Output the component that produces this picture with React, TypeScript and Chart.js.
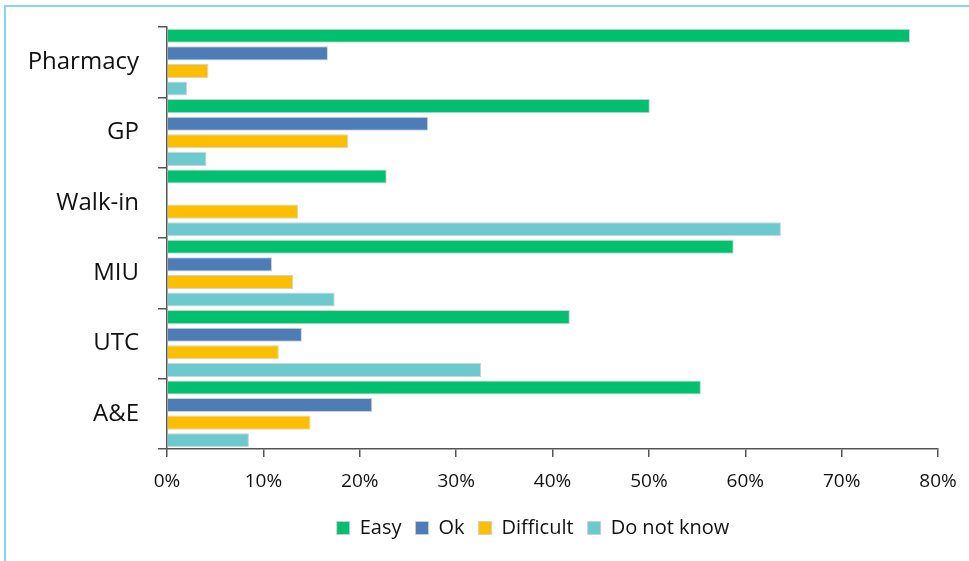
import React, { useEffect, useRef } from "react";
import { Chart, registerables } from "chart.js";

Chart.register(...registerables);

const categories = ["Pharmacy", "GP", "Walk-in", "MIU", "UTC", "A&E"];
const seriesNames = ["Easy", "Ok", "Difficult", "Do not know"];
const easy = [77.1, 50.1, 22.8, 58.8, 41.8, 55.4];
const ok = [16.7, 27.1, 0, 10.9, 14.0, 21.3];
const difficult = [4.3, 18.8, 13.6, 13.1, 11.6, 14.9];
const doNotKnow = [2.1, 4.1, 63.7, 17.4, 32.6, 8.5];
const xTickMax = 80;
const xTickStep = 10;

const colors = ["#00BF6F", "#4E7CB6", "#FBBF00", "#6CC9CD"];
const FONT = "'Open Sans', 'Noto Sans', sans-serif";

const legendShift = {
  id: "legendShift",
  afterLayout(chart: any) {
    const l = chart.legend;
    if (l) {
      l.left += 64;
      l.right += 64;
    }
  },
};

export default function App() {
  const canvasRef = useRef<HTMLCanvasElement | null>(null);

  useEffect(() => {
    if (!canvasRef.current) return;
    const values = [easy, ok, difficult, doNotKnow];
    const chart = new Chart(canvasRef.current, {
      type: "bar",
      data: {
        labels: categories,
        datasets: seriesNames.map((name, i) => ({
          label: name,
          data: values[i],
          backgroundColor: colors[i],
          borderColor: "rgba(205,205,205,0.9)",
          borderWidth: 1,
          categoryPercentage: 1,
          barPercentage: 0.8,
        })),
      },
      plugins: [legendShift],
      options: {
        indexAxis: "y",
        animation: false,
        responsive: true,
        maintainAspectRatio: false,
        layout: { padding: { left: 0, right: 31, top: 27, bottom: 13 } },
        plugins: {
          tooltip: { enabled: false },
          legend: {
            position: "bottom",
            labels: {
              boxWidth: 13,
              boxHeight: 13,
              padding: 14,
              color: "#111",
              font: { family: FONT, size: 20 },
            },
          },
        },
        scales: {
          x: {
            min: 0,
            max: xTickMax,
            ticks: {
              stepSize: xTickStep,
              callback: (v: any) => v + "%",
              color: "#111",
              padding: 13,
              font: { family: FONT, size: 19 },
            },
            grid: {
              display: true,
              drawOnChartArea: false,
              drawTicks: true,
              tickLength: 8,
              color: "#555",
              lineWidth: 1.5,
            },
            border: { display: true, color: "#555", width: 1.5 },
            afterFit: (s: any) => {
              s.height = 55;
              s.paddingLeft = 0;
              s.paddingRight = 0;
            },
          },
          y: {
            ticks: {
              color: "#111",
              padding: 19,
              font: { family: FONT, size: 24 },
            },
            grid: {
              display: true,
              offset: true,
              drawOnChartArea: false,
              drawTicks: true,
              tickLength: 9,
              color: "#555",
              lineWidth: 1.5,
            },
            border: { display: true, color: "#555", width: 1.5 },
            afterFit: (s: any) => {
              s.width = 167;
              s.paddingTop = 0;
              s.paddingBottom = 0;
            },
          },
        },
      },
    });
    return () => chart.destroy();
  }, []);

  return (
    <div style={{ position: "absolute", left: 0, top: 0, width: 969, height: 561, overflow: "hidden", background: "#fff" }}>
      <div
        style={{
          position: "absolute",
          left: 4,
          top: 5,
          width: 1000,
          height: 600,
          border: "2px solid #86D6F3",
          boxSizing: "border-box",
        }}
      />
      <div style={{ position: "absolute", left: 0, top: 0, width: 969, height: 561 }}>
        <canvas ref={canvasRef} />
      </div>
    </div>
  );
}
